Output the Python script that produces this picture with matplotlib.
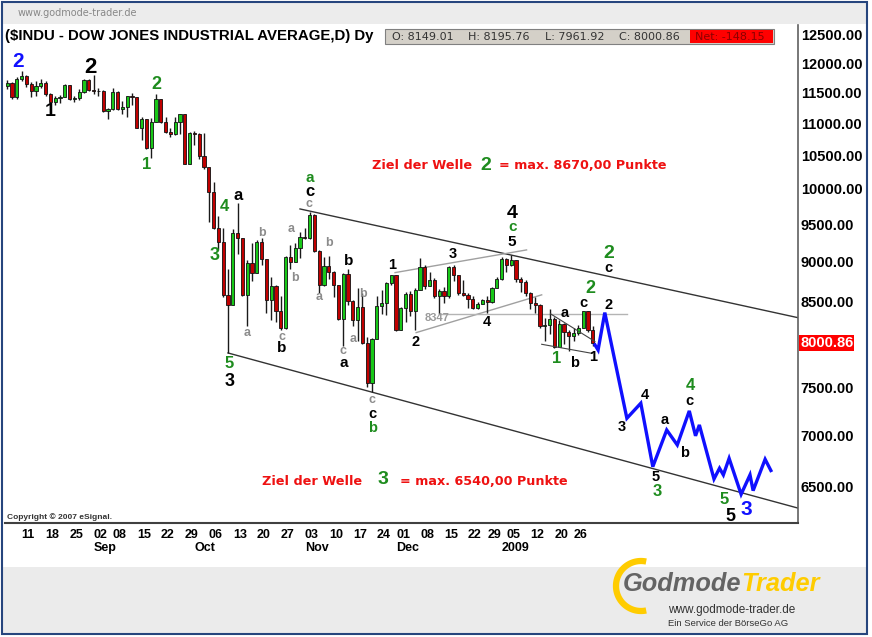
import numpy as np
import matplotlib
matplotlib.use('Agg')
import matplotlib.pyplot as plt
from matplotlib.lines import Line2D
from matplotlib.patches import Rectangle
from matplotlib.ticker import NullLocator
from matplotlib import font_manager as fm

plt.rcParams['font.family'] = ['Liberation Sans', 'DejaVu Sans']

W, H = 872, 637

# ---------------- data (daily candles, $INDU) ----------------
dates = ['2008-08-06','2008-08-07','2008-08-08','2008-08-11','2008-08-12','2008-08-13','2008-08-14','2008-08-15',
 '2008-08-18','2008-08-19','2008-08-20','2008-08-21','2008-08-22','2008-08-25','2008-08-26','2008-08-27','2008-08-28','2008-08-29',
 '2008-09-02','2008-09-03','2008-09-04','2008-09-05','2008-09-08','2008-09-09','2008-09-10','2008-09-11','2008-09-12',
 '2008-09-15','2008-09-16','2008-09-17','2008-09-18','2008-09-19','2008-09-22','2008-09-23','2008-09-24','2008-09-25','2008-09-26',
 '2008-09-29','2008-09-30','2008-10-01','2008-10-02','2008-10-03','2008-10-06','2008-10-07','2008-10-08','2008-10-09','2008-10-10',
 '2008-10-13','2008-10-14','2008-10-15','2008-10-16','2008-10-17','2008-10-20','2008-10-21','2008-10-22','2008-10-23','2008-10-24',
 '2008-10-27','2008-10-28','2008-10-29','2008-10-30','2008-10-31','2008-11-03','2008-11-04','2008-11-05','2008-11-06','2008-11-07',
 '2008-11-10','2008-11-11','2008-11-12','2008-11-13','2008-11-14','2008-11-17','2008-11-18','2008-11-19','2008-11-20','2008-11-21',
 '2008-11-24','2008-11-25','2008-11-26','2008-11-28','2008-12-01','2008-12-02','2008-12-03','2008-12-04','2008-12-05',
 '2008-12-08','2008-12-09','2008-12-10','2008-12-11','2008-12-12','2008-12-15','2008-12-16','2008-12-17','2008-12-18','2008-12-19',
 '2008-12-22','2008-12-23','2008-12-24','2008-12-26','2008-12-29','2008-12-30','2008-12-31','2009-01-02',
 '2009-01-05','2009-01-06','2009-01-07','2009-01-08','2009-01-09','2009-01-12','2009-01-13','2009-01-14','2009-01-15','2009-01-16',
 '2009-01-20','2009-01-21','2009-01-22','2009-01-23','2009-01-26','2009-01-27','2009-01-28','2009-01-29','2009-01-30']

opens = [11616,11656,11431,11734,11782,11642,11533,11616,11660,11479,11349,11417,11430,11628,11386,11413,11503,11715,
 11544,11517,11533,11188,11221,11511,11231,11269,11434,11422,10918,11059,10610,11020,11388,11016,10854,10825,11022,
 11143,10365,10851,10831,10483,10325,9956,9447,9258,8579,8451,9388,9311,8578,8979,8852,9265,9034,8519,8691,
 8379,8176,9065,8991,9181,9325,9320,9625,9139,8696,8944,8871,8694,8283,8835,8497,8274,8425,7997,7552,
 8046,8443,8479,8727,8829,8149,8419,8592,8376,8635,8934,8691,8761,8565,8630,8565,8924,8824,8605,
 8579,8520,8419,8468,8516,8484,8668,8776,9035,8953,9015,8770,8742,8599,8474,8449,8200,8212,
 8281,7949,8228,8123,8078,8116,8175,8375,8149.01]
highs = [11710,11680,11760,11867,11800,11670,11700,11730,11700,11500,11450,11460,11650,11630,11440,11560,11730,11730,
 11790,11580,11540,11250,11580,11530,11360,11440,11490,11422,11100,11060,11080,11483,11390,11100,10920,11100,11150,
 11143,10860,10870,10840,10845,10330,10100,9620,9450,8901,9440,9794,9320,9020,9240,9280,9310,9040,8800,8700,
 8560,9080,9220,9250,9400,9450,9670,9640,9150,9060,9080,8880,8700,8850,8900,8510,8660,8600,8070,8060,
 8560,8640,8740,8830,8830,8430,8610,8630,8660,9044,8950,8860,8790,8650,8680,8948,8950,8830,8760,
 8600,8560,8490,8530,8560,8680,8800,9065,9050,9088,9016,8800,8760,8610,8550,8460,8290,8400,
 8300,8270,8230,8150,8180,8210,8382,8380,8195.76]
lows = [11560,11400,11400,11690,11590,11420,11440,11570,11450,11300,11290,11330,11420,11370,11340,11380,11500,11530,
 11480,11450,11180,11060,11220,11220,11150,11100,11300,10917,10740,10600,10459,11020,11000,10840,10780,10820,10830,
 10365,10365,10650,10450,10300,9530,9430,9150,8550,7882,8451,9100,8560,8200,8745,8850,8950,8360,8270,8250,
 8150,8160,8900,8990,9050,9300,9300,9130,8600,8690,8770,8555,8270,7965,8450,8200,8020,7990,7507,7449,
 8040,8340,8330,8700,8141,8150,8250,8320,8150,8635,8650,8690,8540,8347,8480,8540,8750,8570,8560,
 8420,8400,8400,8460,8360,8480,8660,8760,8870,8940,8740,8610,8560,8400,8360,8170,8020,8100,
 7940,7950,7990,7905,8020,8090,8170,8130,7961.92]
closes = [11656,11431,11734,11782,11642,11533,11616,11660,11479,11349,11417,11430,11628,11386,11413,11503,11715,11544,
 11517,11533,11188,11221,11511,11231,11269,11434,11422,10918,11059,10610,11020,11388,11016,10854,10825,11022,11143,
 10365,10851,10831,10483,10325,9956,9447,9258,8579,8451,9388,9311,8578,8979,8852,9265,9034,8519,8691,8379,
 8176,9065,8991,9181,9325,9320,9625,9139,8696,8944,8871,8694,8283,8835,8497,8274,8425,7997,7552,8046,
 8443,8479,8727,8829,8149,8419,8592,8376,8635,8934,8691,8761,8565,8630,8565,8924,8824,8605,8579,
 8520,8419,8468,8516,8484,8668,8776,9035,8953,9015,8770,8742,8599,8474,8449,8200,8212,8281,
 7949,8228,8123,8078,8116,8175,8375,8149.01,8000.86]

first_pos = -3  # Aug 6 sits three sessions before the Aug 11 tick

tick_dates = ['2008-08-11','2008-08-18','2008-08-25','2008-09-02','2008-09-08','2008-09-15','2008-09-22','2008-09-29',
 '2008-10-06','2008-10-13','2008-10-20','2008-10-27','2008-11-03','2008-11-10','2008-11-17','2008-11-24',
 '2008-12-01','2008-12-08','2008-12-15','2008-12-22','2008-12-29','2009-01-05','2009-01-12','2009-01-20','2009-01-26']
tick_labels = ['11','18','25','02','08','15','22','29','06','13','20','27','03','10','17','24','01','08','15','22','29','05','12','20','26']
month_dates = ['2008-09-02','2008-10-01','2008-11-03','2008-12-01','2009-01-02']
month_labels = ['Sep','Oct','Nov','Dec','2009']

yticks = [6500,7000,7500,8000,8500,9000,9500,10000,10500,11000,11500,12000,12500]

# projected blue path (session position, price)
proj_x = [119.45,120.1,121.5,126.1,129.0,131.5,134.4,136.6,139.1,140.4,141.2,144.25,145.4,146.2,147.4,149.9,151.75,152.4,154.9,156.1]
proj_y = [7977,7918,8359,7172,7330,6686,7051,6900,7249,6992,7103,6568,6671,6607,6767,6424,6607,6458,6758,6649]

# trend channel and helper lines (session position, price)
upper_chan_x = [58.0, 161.96]; upper_chan_y = [9714, 8295]
lower_chan_x = [43.0, 161.96]; lower_chan_y = [7884, 6294]
tri_up_x = [77.8, 105.2]; tri_up_y = [8858, 9154]
tri_lo_x = [82.2, 108.35]; tri_lo_y = [8120, 8577]
hline_x = [87.0, 126.1]; hline_y = [8347, 8347]
wedge_up_x = [110.2, 119.45]; wedge_up_y = [8344, 8016]
wedge_lo_x = [108.35, 118.9]; wedge_lo_y = [7984, 7879]

GREEN = '#1e8c1e'; GRAY = '#8c8c8c'; BLUE = '#1010ff'
wave_labels = [
 ('2', -0.7, 12025, BLUE, 15), ('2', 14.25, 11916, 'k', 16), ('1', 5.9, 11180, 'k', 14),
 ('2', 28.1, 11627, GREEN, 13), ('1', 26.1, 10354, GREEN, 12), ('4', 42.2, 9742, GREEN, 12),
 ('a', 45.1, 9912, 'k', 12), ('3', 40.3, 9075, GREEN, 13), ('5', 43.3, 7768, GREEN, 12),
 ('3', 43.3, 7563, 'k', 13), ('b', 50.0, 9386, GRAY, 9), ('a', 46.9, 8120, GRAY, 9),
 ('c', 54.2, 8073, GRAY, 9), ('b', 54.2, 7937, 'k', 11), ('a', 56.1, 9433, GRAY, 9),
 ('b', 57.0, 8785, GRAY, 9), ('a', 60.1, 10156, GREEN, 11), ('c', 60.1, 9960, 'k', 12),
 ('c', 59.9, 9785, GRAY, 9), ('b', 64.1, 9243, GRAY, 9), ('a', 62.0, 8555, GRAY, 9),
 ('b', 68.2, 9009, 'k', 11), ('c', 66.9, 7908, GRAY, 9), ('a', 67.2, 7774, 'k', 11),
 ('b', 71.1, 8584, GRAY, 9), ('a', 69.0, 8043, GRAY, 9), ('c', 72.9, 7360, GRAY, 9),
 ('c', 73.1, 7215, 'k', 10.5), ('b', 73.1, 7075, GREEN, 10.5), ('1', 77.1, 8956, 'k', 10.5),
 ('2', 82.0, 8014, 'k', 10.5), ('3', 89.8, 9100, 'k', 10.5), ('4', 96.9, 8250, 'k', 10.5),
 ('4', 102.2, 9654, 'k', 14), ('c', 102.2, 9460, GREEN, 11), ('5', 102.2, 9265, 'k', 11),
 ('2', 122.4, 9110, GREEN, 14), ('c', 122.2, 8923, 'k', 10.5), ('2', 118.4, 8659, GREEN, 13),
 ('c', 117.0, 8481, 'k', 10.5), ('a', 113.2, 8359, 'k', 10.5), ('2', 122.2, 8453, 'k', 10.5),
 ('1', 111.5, 7824, GREEN, 12), ('b', 115.1, 7774, 'k', 10.5), ('1', 119.1, 7842, 'k', 10.5),
 ('3', 125.0, 7085, 'k', 10.5), ('4', 129.9, 7419, 'k', 10.5), ('a', 134.0, 7149, 'k', 10.5),
 ('b', 138.2, 6824, 'k', 10.5), ('c', 139.1, 7354, 'k', 10.5), ('4', 139.25, 7516, GREEN, 12),
 ('5', 132.0, 6588, 'k', 10.5), ('3', 132.4, 6446, GREEN, 12), ('5', 146.4, 6371, GREEN, 12),
 ('5', 147.6, 6220, 'k', 13), ('3', 150.9, 6280, BLUE, 15),
]

# ---------------- figure ----------------
fig = plt.figure(figsize=(W/100, H/100), dpi=100)

def fx(x): return x / W
def fy(y): return 1 - y / H
def prect(x0, y0, x1, y1, **kw):
    r = Rectangle((fx(x0), fy(y1)), (x1 - x0) / W, (y1 - y0) / H, transform=fig.transFigure, **kw)
    fig.patches.append(r)
    return r

# header and footer bands
prect(2, 2, 867, 24, facecolor='#ececec', edgecolor='none')
prect(2, 567, 867, 633, facecolor='#ebebeb', edgecolor='none')

ax = fig.add_axes([fx(5), fy(523), (798 - 5) / W, (523 - 25) / H])
ax.set_yscale('log')
ax.set_xlim(-3.46, 161.75)
ax.set_ylim(6162, 12682)

pos = np.arange(len(dates)) + first_pos
o = np.array(opens, float); c = np.array(closes, float)
hi = np.array(highs, float); lo = np.array(lows, float)
up = c >= o
ax.vlines(pos, lo, hi, color='#1a1a1a', lw=1.0, zorder=2)
body_h = np.maximum(np.abs(c - o), 4)
ax.bar(pos, body_h, bottom=np.minimum(o, c), width=0.66,
       color=np.where(up, '#18c818', '#c00000'), edgecolor='#111111', linewidth=0.6, zorder=3)

# helper lines
ax.plot(upper_chan_x, upper_chan_y, color='#333333', lw=1.0, zorder=1)
ax.plot(lower_chan_x, lower_chan_y, color='#333333', lw=1.0, zorder=1)
ax.plot(tri_up_x, tri_up_y, color='#a0a0a0', lw=1.0, zorder=1)
ax.plot(tri_lo_x, tri_lo_y, color='#a0a0a0', lw=1.0, zorder=1)
ax.plot(hline_x, hline_y, color='#b4b4b4', lw=1.0, zorder=1)
ax.plot(wedge_up_x, wedge_up_y, color='#444444', lw=0.8, zorder=4)
ax.plot(wedge_lo_x, wedge_lo_y, color='#444444', lw=0.8, zorder=4)
ax.text(84.0, 8295, '8347', color='#9a9a9a', fontsize=8, fontweight='bold', ha='left', va='center')

# projection
ax.plot(proj_x, proj_y, color=BLUE, lw=2.4, solid_joinstyle='miter', zorder=5)

for t, xx, yy, col, fs in wave_labels:
    ax.text(xx, yy, t, color=col, fontsize=fs, fontweight='bold', ha='center', va='center', zorder=6)

# axes styling
for s in ['top', 'left']:
    ax.spines[s].set_visible(False)
ax.spines['right'].set_color('#606060'); ax.spines['right'].set_linewidth(1.2)
ax.spines['bottom'].set_color('#404040'); ax.spines['bottom'].set_linewidth(1.5)

ax.yaxis.tick_right()
ax.yaxis.set_minor_locator(NullLocator())
ax.set_yticks(yticks)
ax.set_yticklabels(['%.2f' % v if v != 8000 else '' for v in yticks], fontsize=10.5, fontweight='bold')
ax.tick_params(axis='y', length=0, pad=2)

ax.xaxis.set_minor_locator(NullLocator())
ax.set_xticks([dates.index(d) + first_pos for d in tick_dates])
ax.set_xticklabels(tick_labels, ha='left', fontsize=9, fontweight='bold')
ax.tick_params(axis='x', length=0, pad=4)
for d, lab in zip(month_dates, month_labels):
    ax.text(dates.index(d) + first_pos, -(548 - 523) / 498, lab, transform=ax.get_xaxis_transform(),
            ha='left', va='center', fontsize=9, fontweight='bold')

# last price tag
ax.text(1 + 2 / 793, closes[-1], '%.2f' % closes[-1], transform=ax.get_yaxis_transform(),
        ha='left', va='center', fontsize=10.5, fontweight='bold', color='white',
        bbox=dict(boxstyle='square,pad=0.08', facecolor='#ff0000', edgecolor='none'), clip_on=False)

# target texts
RED = '#ee1111'
dj = ['DejaVu Sans']
fig.text(fx(372), fy(166), 'Ziel der Welle', color=RED, fontsize=9.2, fontweight='bold', family=dj, ha='left', va='center')
fig.text(fx(486), fy(165), '2', color=GREEN, fontsize=14, fontweight='bold', ha='center', va='center')
fig.text(fx(499), fy(166), '= max. 8670,00 Punkte', color=RED, fontsize=9.2, fontweight='bold', family=dj, ha='left', va='center')
fig.text(fx(262), fy(481.5), 'Ziel der Welle', color=RED, fontsize=9.2, fontweight='bold', family=dj, ha='left', va='center')
fig.text(fx(383), fy(480), '3', color=GREEN, fontsize=14, fontweight='bold', ha='center', va='center')
fig.text(fx(400), fy(481.5), '= max. 6540,00 Punkte', color=RED, fontsize=9.2, fontweight='bold', family=dj, ha='left', va='center')

# header texts
fig.text(fx(18), fy(13), 'www.godmode-trader.de', color='#888888', fontsize=7, family=dj, ha='left', va='center')
fig.text(fx(5), fy(36), '($INDU - DOW JONES INDUSTRIAL AVERAGE,D) Dy', color='black', fontsize=10.8,
         fontweight='bold', ha='left', va='center')
prect(385, 29.5, 774, 43.5, facecolor='#d4d0c8', edgecolor='#808080', lw=0.8)
prect(690, 30.5, 773, 42.5, facecolor='#ff0000', edgecolor='none')
for xx, t in [(392, 'O: 8149.01'), (468, 'H: 8195.76'), (545, 'L: 7961.92'), (619, 'C: 8000.86')]:
    fig.text(fx(xx), fy(36.5), t, color='#333333', fontsize=8, family=dj, ha='left', va='center')
fig.text(fx(695), fy(36.5), 'Net: -148.15', color='#8b0000', fontsize=8, family=dj, ha='left', va='center')

fig.text(fx(7), fy(517), 'Copyright \u00a9 2007 eSignal.', color='#333333', fontsize=6, fontweight='bold', ha='left', va='center')

# footer logo
th = np.radians(np.linspace(78, 282, 120))
fig.add_artist(Line2D(fx(641 + 25 * np.cos(th)), fy(586 - 25 * np.sin(th)), transform=fig.transFigure,
                      color='#ffcc00', lw=4.5, solid_capstyle='butt'))
try:
    fm.findfont('Liberation Sans Narrow', fallback_to_default=False)
    logo_family = 'Liberation Sans Narrow'
except Exception:
    logo_family = 'Liberation Sans'
fs0 = 20
t1 = fig.text(fx(623), fy(584), 'Godmode', color='#646464', fontsize=fs0, fontweight='bold', style='italic',
              family=logo_family, ha='left', va='center')
t2 = fig.text(fx(700), fy(584), 'Trader', color='#ffcc00', fontsize=fs0, fontweight='bold', style='italic',
              family=logo_family, ha='left', va='center')
fig.canvas.draw()
rend = fig.canvas.get_renderer()
wtot = t1.get_window_extent(rend).width + t2.get_window_extent(rend).width
fs1 = fs0 * 197.0 / wtot
t1.set_fontsize(fs1); t2.set_fontsize(fs1)
w1 = t1.get_window_extent(rend).width
t2.set_x(fx(623 + w1))
fig.text(fx(668), fy(610), 'www.godmode-trader.de', color='#333333', fontsize=8.5, ha='left', va='center')
fig.text(fx(668), fy(623), 'Ein Service der B\u00f6rseGo AG', color='#333333', fontsize=6.8, ha='left', va='center')

# outer frame
prect(1.5, 1.5, 867, 633.5, fill=False, edgecolor='#26457d', lw=1.5, zorder=10)

fig.savefig('out.png', dpi=100)
